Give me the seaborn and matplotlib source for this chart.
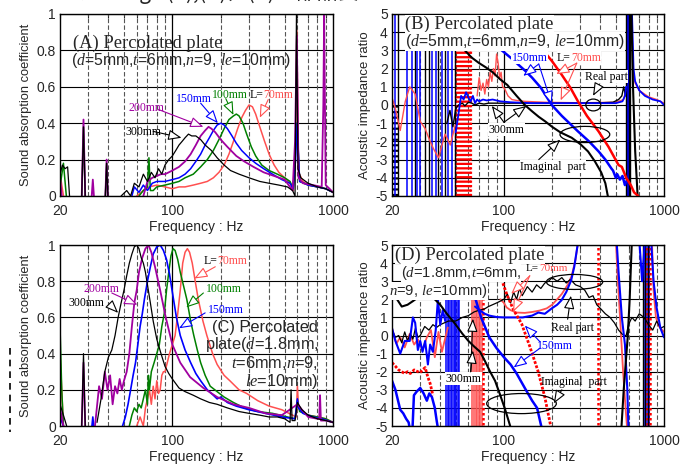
import numpy as np
import matplotlib
matplotlib.use("Agg")
import matplotlib.pyplot as plt
from matplotlib.patches import Ellipse
from matplotlib.ticker import FixedLocator, NullFormatter
import seaborn as sns

sns.set_theme(style="white")
plt.rcParams['font.family'] = ['Liberation Sans', 'DejaVu Sans']
plt.rcParams['mathtext.fontset'] = 'custom'
plt.rcParams['mathtext.rm'] = 'Liberation Serif'
plt.rcParams['mathtext.it'] = 'Liberation Serif:italic'

# ---------------- colours ----------------
C_RED = "#ff5050"
C_RED2 = "#ff0000"
C_GRN = "#008000"
C_BLU = "#0000ff"
C_PUR = "#a000a0"
C_BLK = "#000000"

# ================= Panel A : absorption, d=5mm =================
A_L70_f = [20, 20.5, 21.2, None, 60, 66, 72, 80, 90, 100, 110, 120, 135, 150, 165, 180, 195, 210, 225, 240, 255,
           270, 285, 300, 315, 330, 350, 375, 400, 430, 460, 500, 540, 565, 585, 595, 610, 650, 700, 800, 900, 1000]
A_L70_v = [0.13, 0.06, -0.02, None, 0.0, 0.03, 0.05, 0.06, 0.05, 0.04, 0.05, 0.05, 0.06, 0.07, 0.08, 0.1, 0.13,
           0.17, 0.23, 0.3, 0.37, 0.43, 0.47, 0.5, 0.49, 0.45, 0.38, 0.3, 0.23, 0.17, 0.13, 0.1, 0.07, 0.03, 0.3,
           0.91, 0.13, 0.08, 0.06, 0.05, 0.04, 0.02]
A_L100_f = [20, 21, 22, None, 27.3, 28, 28.7, None, 38.3, 39, 39.7, None, 62, 66, 70, 71.5, 73, 76, 80, 90, 100,
            110, 120, 135, 150, 165, 180, 195, 210, 225, 240, 250, 260, 275, 290, 310, 330, 360, 400, 450, 500,
            540, 565, 580, 595, 620, 700, 800, 900, 1000]
A_L100_v = [0.05, 0.18, -0.02, None, 0, 0.38, 0, None, 0, 0.18, 0, None, 0.0, 0.03, 0.05, 0.21, 0.03, 0.03, 0.05,
            0.06, 0.07, 0.08, 0.1, 0.12, 0.16, 0.2, 0.25, 0.31, 0.37, 0.42, 0.44, 0.45, 0.44, 0.4, 0.34, 0.27,
            0.22, 0.17, 0.14, 0.12, 0.1, 0.08, 0.04, 0.2, 0.4, 0.08, 0.06, 0.05, 0.04, 0.02]
A_L150_f = [56, 58, 62, 66, 70, 75, 80, 90, 100, 110, 120, 130, 140, 150, 160, 170, 180, 190, 200, 210, 220, 235,
            250, 270, 300, 330, 370, 420, 480, 540, 565, 585, 597, 620, 700, 800, 900, 1000]
A_L150_v = [0.0, 0.05, 0.02, 0.06, 0.03, 0.07, 0.08, 0.08, 0.09, 0.1, 0.12, 0.15, 0.19, 0.23, 0.28, 0.32, 0.36,
            0.39, 0.4, 0.39, 0.37, 0.33, 0.29, 0.25, 0.21, 0.18, 0.15, 0.12, 0.09, 0.07, 0.04, 0.2, 0.4, 0.08,
            0.06, 0.05, 0.04, 0.02]
A_L200_f = [20, 20.5, None, 27.3, 28, 28.7, None, 31.5, 32, 32.5, None, 38.3, 39, 39.7, None, 66, 70, 75, 80, 85,
            90, 95, 100, 110, 120, 130, 140, 150, 160, 168, 175, 185, 200, 220, 250, 280, 320, 370, 430, 500,
            560, 580, 595, 610, 650, 750, 850, 870, 880, 900, 950, 1000]
A_L200_v = [0.1, 0.0, None, 0, 0.42, 0, None, 0, 0.09, 0, None, 0, 0.2, 0, None, 0.0, 0.08, 0.1, 0.11, 0.12,
            0.12, 0.13, 0.14, 0.16, 0.19, 0.23, 0.28, 0.33, 0.36, 0.38, 0.37, 0.35, 0.31, 0.27, 0.22, 0.19, 0.16,
            0.13, 0.11, 0.09, 0.03, 0.3, 0.88, 0.1, 0.07, 0.06, 0.05, 0.5, 1.0, 0.06, 0.04, 0.02]
A_L300_f = [20, 20.7, 21.5, 22.3, 23, None, 27.3, 28, 28.7, None, 38.3, 39, 39.7, None, 48, 52, 55, 58, 62, 66,
            70, 74, 78, 82, 86, 90, 95, 100, 105, 110, 115, 120, 126, 132, 140, 150, 160, 175, 190, 210, 230,
            260, 300, 350, 400, 460, 520, 560, 580, 592, 605, 630, 700, 800, 900, 1000]
A_L300_v = [0.12, 0.17, 0.15, 0.16, -0.02, None, 0, 0.38, 0, None, 0, 0.18, 0, None, 0.0, 0.03, 0.0, 0.07, 0.05,
            0.12, 0.08, 0.13, 0.1, 0.15, 0.12, 0.17, 0.2, 0.22, 0.25, 0.28, 0.3, 0.32, 0.34, 0.33, 0.33, 0.31,
            0.28, 0.25, 0.21, 0.17, 0.14, 0.12, 0.1, 0.08, 0.07, 0.06, 0.05, 0.03, 0.0, 1.0, 0.15, 0.1, 0.07,
            0.05, 0.04, 0.02]

# ================= Panel C : absorption, d=1.8mm =================
C_L70_f = [20, 20.5, 21, None, 60, 63, 66, 68, 70, 72, 74, 76, 78, 80, 82, 84, 86, 88, 90, 93, 96, 100, 104, 108,
           112, 116, 120, 124, 128, 133, 140, 145, 155, 164, 178, 190, 210, 228, 260, 290, 340, 400, 480, 560,
           590, 600, 610, 640, 700, 800, 900, 1000]
C_L70_v = [0.4, 0.2, 0.0, None, 0.0, 0.05, 0.0, 0.1, 0.15, 0.2, 0.12, 0.22, 0.15, 0.25, 0.18, 0.2, 0.28, 0.3,
           0.3, 0.35, 0.4, 0.45, 0.5, 0.62, 0.75, 0.9, 0.96, 0.98, 0.96, 0.9, 0.78, 0.7, 0.58, 0.5, 0.4, 0.34,
           0.28, 0.25, 0.2, 0.18, 0.14, 0.11, 0.09, 0.06, 0.05, 0.22, 0.1, 0.08, 0.06, 0.05, 0.04, 0.02]
C_L100_f = [20, 20.5, 21, None, 54, 56, 58, 60, 62, 64, 66, 68, 70, 71, 72, 74, 77, 80, 83, 86, 89, 92, 95, 98,
            101, 104, 108, 112, 117, 123, 130, 136, 143, 150, 160, 172, 190, 210, 240, 280, 340, 420, 520, 580,
            600, 620, 700, 800, 900, 1000]
C_L100_v = [0.55, 0.2, 0.0, None, 0.0, 0.06, 0.1, 0.08, 0.12, 0.1, 0.15, 0.2, 0.12, 0.28, 0.2, 0.3, 0.35, 0.4,
            0.45, 0.55, 0.62, 0.75, 0.85, 0.94, 0.98, 0.97, 0.92, 0.85, 0.78, 0.7, 0.58, 0.5, 0.42, 0.35, 0.28,
            0.22, 0.19, 0.16, 0.13, 0.1, 0.08, 0.07, 0.05, 0.04, 0.14, 0.08, 0.06, 0.05, 0.04, 0.02]
C_L150_f = [20, 21, None, 31.6, 32, 32.4, None, 49, 51, 53, 55, 57, 59, 61, 63, 65, 67, 70, 73, 76, 80, 84, 88,
            92, 96, 100, 106, 112, 120, 130, 140, 150, 165, 180, 190, 200, 220, 250, 300, 380, 480, 580, 600,
            610, 650, 750, 850, 1000]
C_L150_v = [0.05, 0.0, None, 0.0, 0.05, 0.0, None, 0.0, 0.05, 0.12, 0.2, 0.28, 0.35, 0.45, 0.55, 0.62, 0.7, 0.8,
            0.88, 0.95, 0.99, 1.0, 0.97, 0.92, 0.84, 0.74, 0.6, 0.5, 0.42, 0.35, 0.29, 0.25, 0.2, 0.17, 0.15,
            0.16, 0.13, 0.11, 0.09, 0.07, 0.05, 0.04, 0.15, 0.1, 0.07, 0.05, 0.04, 0.02]
C_L200_f = [20, 21, None, 27.3, 28, 28.7, None, 33, 35, 36.5, 38, 39.5, 41, 42.5, 44, 45.5, 47, 48.5, 50, 52, 54,
            56, 58, 60, 62, 65, 68, 71, 74, 78, 84, 91, 100, 112, 129, 156, 190, 240, 300, 380, 480, 600, 700,
            800, 820, 830, 840, 900, 1000]
C_L200_v = [0.1, 0.0, None, 0, 0.35, 0, None, 0.0, 0.22, 0.15, 0.3, 0.2, 0.28, 0.12, 0.22, 0.18, 0.26, 0.2, 0.25,
            0.3, 0.4, 0.55, 0.68, 0.75, 0.85, 0.93, 0.98, 1.0, 0.96, 0.88, 0.75, 0.6, 0.45, 0.35, 0.27, 0.21,
            0.16, 0.12, 0.1, 0.07, 0.06, 0.12, 0.05, 0.04, 0.04, 0.17, 0.03, 0.03, 0.02]
C_L300_f = [20, 21, 22, None, 27.3, 28, 28.7, None, 34, 36, 38, 40, 42, 44, 46, 48, 50, 52, 54, 56, 58, 60, 62,
            64, 66, 68, 70, 73, 76, 80, 85, 90, 95, 100, 110, 120, 135, 150, 170, 190, 220, 260, 300, 350, 400,
            450, 500, 540, 548, 556, 580, 600, 640, 700, 800, 900, 1000]
C_L300_v = [0.12, 0.06, 0.0, None, 0, 0.4, 0, None, 0.02, 0.15, 0.3, 0.38, 0.42, 0.5, 0.6, 0.68, 0.75, 0.83,
            0.9, 0.95, 0.99, 1.0, 0.98, 0.93, 0.9, 0.85, 0.78, 0.68, 0.58, 0.48, 0.4, 0.33, 0.29, 0.26, 0.21,
            0.19, 0.17, 0.15, 0.13, 0.12, 0.1, 0.08, 0.07, 0.06, 0.05, 0.05, 0.04, 0.02, 0.2, 0.03, 0.03, 0.13,
            0.09, 0.06, 0.04, 0.03, 0.02]

# ================= Panel B : impedance ratio, d=5mm =================
B_L70_re_f = [20, 21, 22.5, 24.2, 25.8, 27.9, 30.0, 32.2, 34.6, 36.3, 39.0, 42.9, 46.2, 49.7, None, 68, 70, 72,
              74, 76, 78, 80, 82, 84, 86, 88, 90, 92, 94, 96, 98, 101, 106, 112, 120, 135, 180, 300, 500, 560,
              575, None, 640, 660, 700, 800, 900, 1000]
B_L70_re_v = [0.4, -0.2, -1.4, 0.2, 1.0, 0.6, -0.9, -1.3, -2.0, -2.4, -2.9, -1.6, -2.2, -1.1, None, 0.5, 1.5,
              0.8, 1.2, 0.6, 1.4, 1.0, 1.8, 1.3, 2.0, 1.6, 2.8, 2.3, 1.5, 1.8, 1.0, 0.9, 0.5, 0.3, 0.25, 0.2,
              0.15, 0.12, 0.15, 0.3, 0.8, None, 1.8, 1.2, 0.8, 0.45, 0.3, 0.1]
B_L70_im_f = [165, 172, 200, 228, 260, 290, 330, 390, 450, 520, 545, 580, 620, 650, 690, 710]
B_L70_im_v = [3.3, 3.1, 2.4, 1.7, 0.95, 0.2, -0.6, -1.45, -2.3, -3.3, -3.4, -4.0, -4.4, -4.8, -5.0, -5.3]
B_L150_re_f = [50, 52, 54, 56, 58, 60, 62, 64, 66, 68, 70, 74, 78, 85, 95, 110, 150, 200, 300, 400, 500, 550,
               570, 580, None, 630, 645, 660, 700, 760, 850, 950, 1000]
B_L150_re_v = [-1.5, -0.5, 0.5, 0.3, 0.7, 0.4, 0.2, 0.5, 0.1, 0.3, 0.2, 0.3, 0.25, 0.3, 0.2, 0.15, 0.1, 0.1,
               0.1, 0.1, 0.1, 0.2, 0.5, 1.0, None, 5.2, 2.0, 1.3, 0.8, 0.5, 0.3, 0.2, 0.0]
B_L150_im_f = [95, 97, 110, 120, 135, 150, 170, 199, 230, 260, 290, 340, 390, 430, 470, 480, 500, 510, 530, 550,
               570, 580]
B_L150_im_v = [3.1, 3.0, 2.6, 2.3, 1.9, 1.5, 0.95, 0.0, -0.6, -1.05, -1.45, -2.0, -2.55, -3.0, -3.5, -3.6, -4.0,
               -3.8, -4.1, -3.9, -4.4, -4.2]
B_L300_re_f = [44, 46, 48, 50, 52, 55, 57, 60, 63, 66, 70, 75, 80, 90, 100, 150, 200, 300, 400, 480, 520, 545,
               560, 575]
B_L300_re_v = [-1.0, -0.3, -1.2, -0.2, 0.0, 0.1, -0.05, 0.15, 0.1, 0.0, 0.1, 0.05, 0.1, 0.1, 0.1, 0.1, 0.1,
               0.1, 0.12, 0.15, 0.3, 0.5, 1.0, 0.5]
B_L300_im_f = [45, 50, 57, 63, 70, 77, 85, 95, 105, 120, 135, 150, 165, 181, 200, 225, 265, 300, 335, 370, 405,
               430, 450, None, 625, 640, 660, 686]
B_L300_im_v = [3.6, 3.3, 3.0, 2.6, 2.3, 2.07, 1.8, 1.4, 1.1, 0.5, 0.0, -0.35, -0.65, -0.9, -1.2, -1.5, -1.8,
               -2.15, -2.55, -3.1, -3.7, -4.3, -5.2, None, 5.2, 1.0, -2.5, -5.2]
# resonance / noise lines crossing the whole range (frequencies only)
B_blue_vlines = [21.0, 24.8, 26.6, 28.6, 30.0, 35.6, 37.6, 41.0, 44.5, 47.2, 592]
B_black_vlines = [21.9, 27.7, 32.2, 33.8, 39.0, 42.9, 49.7, 580, 588, 598, 608, 616]
B_black_dotted = [20.6, 21.0, 21.4]
B_red_dotted = [50.5, 52.0, 53.5, 55.0, 56.5, 58.0, 59.5, 61.0, 62.5]

# ================= Panel D : impedance ratio, d=1.8mm =================
D_L70_re_f = [20, 21.3, 22.5, 24, 25.8, 27.5, 29, 31, 33, 35, 37, 39, 41, 44.6, None, 95, 100, 104, 110, 120,
              135, 150, 167, 185, 200, 215, 230, 250, 265, 280, 292, None, 500, 515, 535, 555, 575, 590, None,
              840, 860, 890, 930, 1000]
D_L70_re_v = [0.39, -0.45, -0.1, -0.66, 0.1, -0.5, -0.2, -0.8, -0.1, 0.3, -1.2, 0.2, -0.9, 0.44, None, 2.0,
              1.8, 1.55, 1.4, 1.27, 1.25, 1.3, 1.38, 1.5, 1.7, 2.0, 2.3, 2.8, 3.3, 4.2, 5.3, None, 5.3, 3.0, 0.5,
              -2.0, -4.0, -5.3, None, 5.3, 2.5, 1.0, 0.5, 0.2]
D_L70_im_f = [20, 21, 22, 23, 24, 25, 26, 27.5, 29, 30, 31, 32.2, 33.5, 34.6, 36, None, 88, 92, 97, 105, 115,
              129, 145, 163, 180, 198]
D_L70_im_v = [-1.5, -1.7, -1.9, -2.0, -2.1, -2.0, -2.1, -1.9, -2.0, -2.05, -1.9, -1.77, -2.3, -2.65, -3.3,
              None, 5.3, 4.0, 3.05, 2.2, 1.4, 0.65, -0.6, -1.95, -3.4, -5.2]
D_L150_re_f = [20, 21, 22.5, 24, 25.8, 27, 27.9, 29, 30, 31, 32.2, 33.5, 34.6, 36, 37.5, 38.7, 40, 41.5, 43,
               None, 66, 71, 76, 81, 90, 100, 115, 131, 150, 164, 180, 199, 215, 229, 245, 263, 275, 292, None,
               505, 520, 545, 570, 590, 600, None, 700, 730, 760, None, 830, 860, 900, 950, 1000]
D_L150_re_v = [0.4, -0.3, -1.0, -0.3, -0.3, 1.0, 0.7, -0.8, -0.3, -0.9, -0.3, -1.6, -0.5, -0.9, 0.3, 2.0, 0.6,
               1.4, 0.8, None, 1.6, 1.38, 1.2, 1.1, 1.02, 1.0, 1.0, 1.0, 1.1, 1.27, 1.2, 1.5, 1.7, 1.95, 2.4,
               3.05, 3.8, 5.3, None, 5.3, 3.5, 1.0, -0.5, -3.0, -5.3, None, 5.3, 3.0, 5.3, None, 5.3, 3.0, 1.5,
               0.4, -0.1]
D_L150_im_f = [20, 21, 22.5, 23.5, 24.5, 25.4, 26, None, 26.8, 27.4, 28.5, 30, 31.5, 33, 34.2, 35.5, 37, 38, 39,
               None, 55, 58, 61, 66, 72, 81, 90, 100, 110, 120, 135, 150, 161, 173]
D_L150_im_v = [-2.5, -3.0, -4.1, -4.3, -4.6, -4.8, -5.3, None, -5.3, -3.3, -3.1, -2.9, -3.2, -3.6, -3.2, -3.4,
               -4.0, -4.7, -5.3, None, 5.3, 4.0, 3.0, 2.1, 1.0, -0.1, -0.7, -1.2, -1.6, -2.1, -2.9, -3.6, -4.0,
               -5.2]
D_L300_re_f = [20, 21, 22, 23, 24, 25, 26, 27, 28, 29, 30, 32, 34, 36, 38, 40, 45, 50, 55, 60, 65, 70, 75, 80,
               90, 100, 105, 110, 115, 120, 125, 130, 140, 150, 160, 170, 180, 190, 200, 215, 230, 245, 260, 280,
               300, 320, 340, 360, 380, 400, 430, 460, 490, 520, 545, 560, 580, 600, 630, 660, 700, 750, 800, 850,
               900, 950, 1000]
D_L300_re_v = [0.3, -0.1, 0.0, -0.4, 0.2, -0.3, 0.1, -0.2, 0.4, -0.1, 0.0, 0.5, 0.3, 0.6, 0.45, 0.6, 0.8, 0.8,
               1.0, 1.1, 1.3, 1.4, 1.45, 1.6, 1.8, 2.0, 2.3, 1.8, 2.4, 2.0, 2.6, 2.2, 2.7, 2.4, 2.8, 2.6, 2.9, 3.0,
               3.2, 3.0, 3.2, 2.9, 3.1, 2.8, 2.7, 2.5, 2.1, 2.2, 1.7, 1.5, 1.2, 1.0, 0.7, 0.3, 0.1, 0.0, 0.0, 0.6,
               1.0, 0.8, 1.2, 1.0, 0.6, 0.3, 0.8, 0.4, 0.5]
D_L300_im_f = [20, 21.5, 23, 25, 27, 29, 31, 34, 37, 40, 44, 49.5, 55, 60, 65, 71, 76, 82, 88, 94, 101, 106, 112,
               None, 540, 560, 580, 593, 610, 630]
D_L300_im_v = [2.5, 2.0, 1.6, 1.7, 1.9, 2.1, 2.3, 2.2, 2.0, 1.7, 1.2, 0.65, 0.1, -0.3, -0.6, -0.9, -1.4, -2.0,
               -2.5, -3.2, -4.0, -4.6, -5.3, None, -5.3, -3.0, -1.2, -0.1, 2.0, 5.3]
D_blue_vlines = [43.5, 44.5, 45.5, 46.5, 47.5, 48.5, 49.5, 50.5, 51.5, 52.2, 760, 780, 800]
D_red_vlines = [63.5, 65.0, 66.5, 68.0, 69.5, 71.0, 72.5]
D_red_dotted = [74.0, 388.0, 780, 820]
D_black_vlines = [740, 765, 790]

# ---------------- helpers ----------------
def to_arr(a):
    return np.array([np.nan if x is None else x for x in a], dtype=float)

def draw(ax, f, v, color, lw=1.0, ls='-', z=2, alpha=1.0):
    f, v = to_arr(f), to_arr(v)
    gaps = np.isnan(f)
    idx = np.split(np.arange(len(f)), np.where(gaps)[0])
    for seg in idx:
        seg = seg[~gaps[seg]]
        if len(seg) < 2:
            continue
        sns.lineplot(x=f[seg], y=v[seg], ax=ax, color=color, lw=lw, linestyle=ls, estimator=None,
                     sort=False, legend=False, zorder=z, alpha=alpha)

def style_axes(ax, ylim, yticks, ylabs, ylabel, ylabel_fs=9.5):
    ax.set_xscale('log')
    ax.set_xlim(20, 1000)
    ax.set_ylim(*ylim)
    ax.xaxis.set_major_locator(FixedLocator([20, 100, 1000]))
    ax.xaxis.set_minor_locator(FixedLocator([30, 40, 50, 60, 70, 80, 90, 200, 300, 400, 500, 600, 700, 800, 900]))
    ax.xaxis.set_minor_formatter(NullFormatter())
    ax.set_xticklabels(['20', '100', '1000'], fontsize=10)
    ax.set_yticks(yticks)
    ax.set_yticklabels(ylabs, fontsize=10)
    ax.tick_params(which='both', direction='in', top=True, right=True, length=3, width=0.8, pad=3)
    ax.tick_params(axis='x', which='major', pad=6)
    ax.set_xlabel('Frequency : Hz', fontsize=10, labelpad=1)
    ax.set_ylabel(ylabel, fontsize=ylabel_fs, labelpad=3)
    for y in yticks:
        ax.axhline(y, color='black', lw=0.8, zorder=1)
    for x in [30, 40, 50, 60, 70, 80, 90, 200, 300, 400, 500, 600, 700, 800, 900]:
        ax.axvline(x, color='#555555', lw=0.8, ls=(0, (4, 2)), zorder=1)
    ax.axvline(100, color='black', lw=0.9, zorder=1)
    for s in ax.spines.values():
        s.set_color('black')
        s.set_linewidth(1.0)

SERIF = ['Liberation Serif', 'DejaVu Serif']

def label(ax, x, y, s, color, fs=8.5, ha='left', bg=False):
    kw = {}
    if bg:
        kw['bbox'] = dict(facecolor='white', edgecolor='none', pad=0.3)
    ax.text(x, y, s, color=color, fontsize=fs, family=SERIF, ha=ha, va='center', zorder=6, **kw)

def arrow(ax, tail, head, color):
    ax.annotate('', xy=head, xytext=tail, zorder=7,
                arrowprops=dict(arrowstyle='-|>,head_length=0.8,head_width=0.32', fc='white', ec=color,
                                lw=0.8, mutation_scale=10, shrinkA=0, shrinkB=0))

def ellipse(ax, cx, cy, w, h):
    ax.add_patch(Ellipse((cx, cy), w, h, transform=ax.transAxes, fill=False, ec='black', lw=0.9, zorder=6))

WHITE = dict(facecolor='white', edgecolor='none', pad=0.0)

# ---------------- figure ----------------
fig = plt.figure(figsize=(6.93, 4.66), dpi=100)
axA = fig.add_axes([0.0866, 0.5794, 0.394, 0.3906])
axB = fig.add_axes([0.5657, 0.5794, 0.3925, 0.3906])
axC = fig.add_axes([0.0866, 0.0858, 0.394, 0.3884])
axD = fig.add_axes([0.5657, 0.0858, 0.3925, 0.3884])

abs_ticks = [0, 0.2, 0.4, 0.6, 0.8, 1.0]
abs_labs = ['0', '0.2', '0.4', '0.6', '0.8', '1']
imp_ticks = list(range(-5, 6))
imp_labs = [str(t) for t in imp_ticks]

for ax in (axA, axC):
    style_axes(ax, (0, 1), abs_ticks, abs_labs, 'Sound absorption coefficient', 9.3)
for ax in (axB, axD):
    style_axes(ax, (-5, 5), imp_ticks, imp_labs, 'Acoustic impedance ratio', 9.5)

# ----- Panel A -----
draw(axA, A_L70_f, A_L70_v, C_RED, 1.1)
draw(axA, A_L100_f, A_L100_v, C_GRN, 1.1)
draw(axA, A_L150_f, A_L150_v, C_BLU, 1.1)
draw(axA, A_L200_f, A_L200_v, C_PUR, 1.3)
draw(axA, A_L300_f, A_L300_v, C_BLK, 0.9)
axA.text(24.0, 0.84, '(A) Percolated plate', fontsize=13.3, family=SERIF, va='center', zorder=6)
axA.text(23.5, 0.745, r'($\it{d}$=5mm,$\it{t}$=6mm,$\it{n}$=9, $\it{le}$=10mm)', fontsize=11.3,
         va='center', zorder=6)
label(axA, 51, 0.35, '300mm', C_BLK)
arrow(axA, (76, 0.355), (114, 0.32), C_BLK)
label(axA, 53, 0.485, '200mm', C_PUR)
arrow(axA, (82, 0.475), (156, 0.38), C_PUR)
label(axA, 106, 0.535, '150mm', C_BLU)
arrow(axA, (150, 0.51), (192, 0.40), C_BLU)
label(axA, 176, 0.555, '100mm', C_GRN)
arrow(axA, (215, 0.535), (240, 0.445), C_GRN)
label(axA, 369, 0.555, 'L=', C_BLK, ha='right')
label(axA, 369, 0.555, '70mm', C_RED)
arrow(axA, (395, 0.53), (350, 0.43), C_RED)

# ----- Panel C -----
draw(axC, C_L70_f, C_L70_v, C_RED, 1.1)
draw(axC, C_L100_f, C_L100_v, C_GRN, 1.1)
draw(axC, C_L150_f, C_L150_v, C_BLU, 1.2)
draw(axC, C_L200_f, C_L200_v, C_PUR, 1.3)
draw(axC, C_L300_f, C_L300_v, C_BLK, 0.9)
axC.text(810, 0.585, '(C) Percolated\nplate(' + r'$\it{d}$' + '=1.8mm,\n' + r'$\it{t}$' + '=6mm,' +
         r'$\it{n}$' + '=9,\n' + r'$\it{le}$' + '=10mm)', fontsize=11.8, ha='right', va='top',
         linespacing=1.0, zorder=6)
label(axC, 190, 0.91, 'L=', C_BLK, ha='right')
label(axC, 190, 0.91, '70mm', C_RED)
arrow(axC, (185, 0.88), (137, 0.815), C_RED)
label(axC, 163, 0.755, '100mm', C_GRN)
arrow(axC, (156, 0.735), (122, 0.655), C_GRN)
label(axC, 167, 0.64, '150mm', C_BLU)
arrow(axC, (160, 0.625), (110, 0.54), C_BLU)
label(axC, 28, 0.755, '200mm', C_PUR)
arrow(axC, (42, 0.735), (60.6, 0.67), C_PUR)
label(axC, 22.5, 0.68, '300mm', C_BLK)
arrow(axC, (42, 0.66), (46, 0.625), C_BLK)

# ----- Panel B -----
axB.vlines(B_black_dotted, -5, 0, color=C_BLK, lw=1.5, ls=':', zorder=2)
axB.vlines(B_red_dotted, -5.5, 5.5, color=C_RED2, lw=1.6, ls=(0, (1, 1)), zorder=2)
axB.vlines(B_black_vlines, -5.5, 5.5, color=C_BLK, lw=1.0, zorder=2)
axB.vlines(B_blue_vlines, -5.5, 5.5, color=C_BLU, lw=1.1, zorder=2)
draw(axB, B_L70_re_f, B_L70_re_v, C_RED, 1.0)
draw(axB, B_L300_re_f, B_L300_re_v, C_BLK, 1.0)
draw(axB, B_L150_re_f, B_L150_re_v, C_BLU, 1.3)
draw(axB, B_L300_im_f, B_L300_im_v, C_BLK, 1.5)
draw(axB, B_L150_im_f, B_L150_im_v, C_BLU, 1.8)
draw(axB, B_L70_im_f, B_L70_im_v, C_RED2, 1.8)
axB.text(24.2, 4.45, '(B) Percolated plate', fontsize=13.3, family=SERIF, va='center', zorder=6, bbox=WHITE)
axB.text(24.0, 3.5, r'($\it{d}$=5mm,$\it{t}$=6mm,$\it{n}$=9, $\it{le}$=10mm)', fontsize=11.3,
         va='center', zorder=6, bbox=WHITE)
label(axB, 112, 2.6, '150mm', C_BLU, bg=True)
arrow(axB, (165, 2.25), (132, 1.6), C_BLU)
arrow(axB, (165, 2.25), (199, 0.05), C_BLU)
label(axB, 262, 2.6, 'L=', C_BLK, ha='right', bg=True)
label(axB, 262, 2.6, '70mm', C_RED, bg=True)
arrow(axB, (285, 2.3), (212, 1.7), C_RED)
arrow(axB, (285, 2.3), (226, 0.25), C_RED)
label(axB, 320, 1.55, 'Real part', C_BLK, bg=True)
arrow(axB, (395, 1.15), (360, 0.5), C_BLK)
ellipse(axB, 0.74, 0.50, 0.055, 0.065)
label(axB, 80, -1.35, '300mm', C_BLK, bg=True)
arrow(axB, (100, -0.95), (84, -0.05), C_BLK)
arrow(axB, (100, -0.95), (138, -0.05), C_BLK)
label(axB, 126, -3.4, 'Imaginal  part', C_BLK, bg=True)
arrow(axB, (165, -3.0), (225, -1.9), C_BLK)
ellipse(axB, 0.709, 0.338, 0.183, 0.089)

# ----- Panel D -----
axD.vlines(D_blue_vlines, -5.5, 5.5, color=C_BLU, lw=1.1, zorder=2)
axD.vlines(D_red_vlines, -5.5, 5.5, color=C_RED, lw=1.1, zorder=2)
axD.vlines(D_red_dotted, -5.5, 5.5, color=C_RED2, lw=1.8, ls=(0, (1, 1)), zorder=2)
axD.vlines(D_black_vlines, -5.5, 5.5, color=C_BLK, lw=1.0, zorder=2)
draw(axD, D_L70_re_f, D_L70_re_v, C_RED, 1.3)
draw(axD, D_L300_re_f, D_L300_re_v, C_BLK, 0.9)
draw(axD, D_L150_re_f, D_L150_re_v, C_BLU, 1.5)
draw(axD, D_L300_im_f, D_L300_im_v, C_BLK, 1.5)
draw(axD, D_L150_im_f, D_L150_im_v, C_BLU, 1.8)
draw(axD, D_L70_im_f, D_L70_im_v, C_RED2, 2.0, ls=(0, (1, 0.6)))
axD.text(21.0, 4.45, '(D) Percolated plate', fontsize=13.3, family=SERIF, va='center', zorder=6, bbox=WHITE)
axD.text(22.6, 3.45, r'($\it{d}$=1.8mm,$\it{t}$=6mm,', fontsize=10.6, va='center', zorder=6, bbox=WHITE)
axD.text(19.2, 2.45, r'$\it{n}$=9, $\it{le}$=10mm)', fontsize=10.6, va='center', zorder=6, bbox=WHITE)
label(axD, 166, 3.7, 'L=', C_BLK, fs=8, ha='right')
label(axD, 166, 3.7, '70mm', C_RED, fs=8)
arrow(axD, (145, 3.3), (111, 2.3), C_RED)
arrow(axD, (145, 3.3), (114, 1.3), C_RED)
label(axD, 197, 0.4, 'Real part', C_BLK)
arrow(axD, (250, 0.9), (262, 2.2), C_BLK)
ellipse(axD, 0.671, 0.796, 0.207, 0.083)
label(axD, 160, -0.6, '150mm', C_BLU)
arrow(axD, (168, -0.35), (135, 0.55), C_BLU)
arrow(axD, (168, -0.7), (115, -1.76), C_BLU)
label(axD, 43, -2.4, '300mm', C_BLK, bg=True)
arrow(axD, (62, -2.0), (64, 0.93), C_BLK)
arrow(axD, (62, -2.0), (64, -0.83), C_BLK)
label(axD, 171, -2.55, 'Imaginal  part', C_BLK)
arrow(axD, (230, -3.0), (205, -3.75), C_BLK)
ellipse(axD, 0.476, 0.124, 0.256, 0.111)

# ----- bits of surrounding page (cut off by the crop) -----
fig.text(0.34, 1 + 1 / 466, 'とし、L₀ Figs.(A),(B)，(C)の部品長 300mm', fontsize=15,
         family=['Noto Sans CJK JP', 'DejaVu Sans'], ha='center', va='baseline')
fig.add_artist(plt.Line2D([10 / 693, 10 / 693], [1 - 348 / 466, 1 - 432 / 466], color='black', lw=1.2,
                          ls=(0, (4, 3))))

fig.savefig('out.png', dpi=100)
